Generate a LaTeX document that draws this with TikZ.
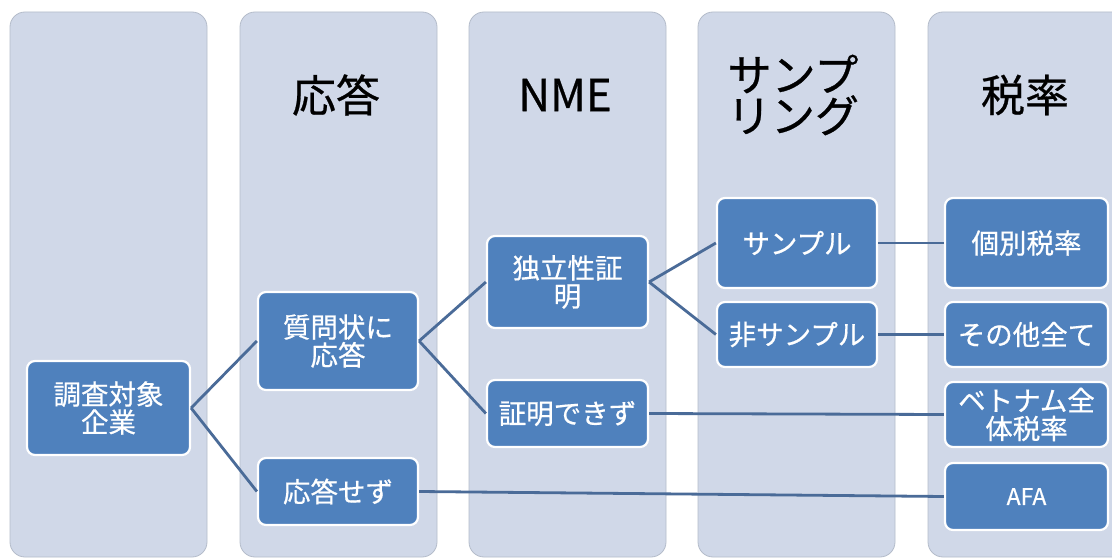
\documentclass[tikz,border=0pt]{standalone}
\usepackage{fontspec}
\setmainfont{Noto Sans CJK JP}
\newfontfamily\boxfont[FakeBold=0.6]{Noto Sans CJK JP}
\begin{document}
\begin{tikzpicture}[x=1pt,y=-1pt,
  panel/.style={fill=panelfill,draw=panelline,line width=0.8pt,rounded corners=15pt},
  box/.style={fill=boxfill,draw=white,line width=2.2pt,rounded corners=8pt,text=white,
    font=\boxfont\fontsize{27.5}{28}\selectfont,align=center,inner sep=0pt},
  head/.style={font=\boxfont\fontsize{44}{41}\selectfont,align=center,text=black,inner sep=0pt},
  conn/.style={draw=connline,line width=2.8pt}]
\definecolor{panelfill}{HTML}{D0D8E8}
\definecolor{panelline}{HTML}{B4BCCA}
\definecolor{boxfill}{HTML}{4F81BD}
\definecolor{connline}{HTML}{4A6B98}
\useasboundingbox (0,0) rectangle (1112,559);
\clip (0,0) rectangle (1112,559);
\fill[white] (0,0) rectangle (1112,559);
% panels
\path[panel] (10,12) rectangle (207,557);
\path[panel] (240,12) rectangle (437,557);
\path[panel] (469,12) rectangle (666,557);
\path[panel] (698,12) rectangle (895,557);
\path[panel] (928,12) rectangle (1135,557);
% headers
\node[head] (h2) at (336,95) {応答};
\node[head] (h3) at (565,95) {NME};
\node[head] (h4) at (793,95) {サンプ\\リング};
\node[head] (h5) at (1025,95) {税率};
% boxes
\node[box,minimum width=163pt,minimum height=94pt] (a) at (108.5,408) {調査対象\\企業};
\node[box,minimum width=160pt,minimum height=98pt] (b1) at (338,341) {質問状に\\応答};
\node[box,minimum width=160pt,minimum height=67pt] (b2) at (338,491.5) {応答せず};
\node[box,minimum width=161pt,minimum height=92pt] (c1) at (567.5,282) {独立性証\\明};
\node[box,minimum width=161pt,minimum height=67pt] (c2) at (567.5,413.5) {証明できず};
\node[box,minimum width=160pt,minimum height=90pt] (d1) at (797,243) {サンプル};
\node[box,minimum width=160pt,minimum height=65pt] (d2) at (797,334.5) {非サンプル};
\node[box,minimum width=163pt,minimum height=90pt] (e1) at (1026.5,243) {個別税率};
\node[box,minimum width=163pt,minimum height=65pt] (e2) at (1026.5,334.5) {その他全て};
\node[box,minimum width=163pt,minimum height=65pt] (e3) at (1026.5,414.5) {ベトナム全\\体税率};
\node[box,minimum width=163pt,minimum height=67pt,font=\boxfont\fontsize{23}{26}\selectfont] (e4) at (1026.5,496.5) {AFA};
% connectors
\draw[conn] (a.east) -- (b1.west);
\draw[conn] (a.east) -- (b2.west);
\draw[conn] (b1.east) -- (c1.west);
\draw[conn] (b1.east) -- (c2.west);
\draw[conn] (c1.east) -- (d1.west);
\draw[conn] (c1.east) -- (d2.west);
\draw[conn] (d1.east) -- (e1.west);
\draw[conn] (d2.east) -- (e2.west);
\draw[conn] (c2.east) -- (e3.west);
\draw[conn] (b2.east) -- (e4.west);
\end{tikzpicture}
\end{document}
